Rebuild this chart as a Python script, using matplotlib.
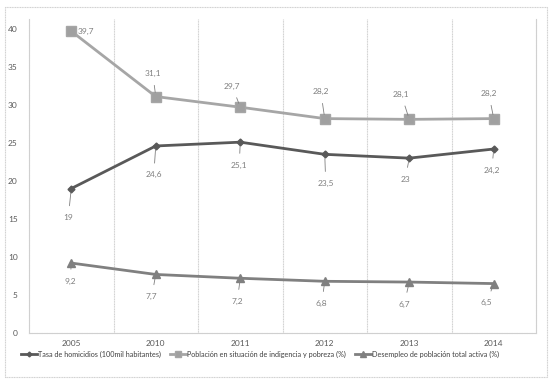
import matplotlib
matplotlib.use('Agg')

import matplotlib.pyplot as plt
from matplotlib.patches import Rectangle

# datos
years = ['2005', '2010', '2011', '2012', '2013', '2014']
homicidios = [19, 24.6, 25.1, 23.5, 23, 24.2]
pobreza = [39.7, 31.1, 29.7, 28.2, 28.1, 28.2]
desempleo = [9.2, 7.7, 7.2, 6.8, 6.7, 6.5]

lbl_homicidios = 'Tasa de homicidios (100mil habitantes)'
lbl_pobreza = 'Población en situación de indigencia y pobreza (%)'
lbl_desempleo = 'Desempleo de población total activa (%)'

# desplazamiento de etiquetas (pixeles)
off_hom = [(-3, -29), (-2, -29), (-1, -23), (1, -29), (-4, -21), (-2, -21)]
off_pob = [(15, 0), (-3, 23), (-8, 21), (-4, 27), (-8, 25), (-5, 25)]
off_des = [(-1, -18), (-4, -22), (-3, -23), (-3, -22), (-5, -22), (-7, -19)]

plt.rcParams['font.family'] = ['Lato', 'DejaVu Sans']

fig = plt.figure(figsize=(5.53, 3.81), dpi=100)
ax = fig.add_axes([29 / 553, 48 / 381, 507 / 553, 314 / 381])

x = list(range(len(years)))
c_hom, c_pob, c_des = '#595959', '#a6a6a6', '#808080'

ax.plot(x, homicidios, color=c_hom, lw=2, marker='D', ms=3.5, label=lbl_homicidios, zorder=4)
ax.plot(x, pobreza, color=c_pob, lw=2, marker='s', ms=6.5, mfc='#a0a0a0', mec='#a6a6a6',
        label=lbl_pobreza, zorder=3)
ax.plot(x, desempleo, color=c_des, lw=2, marker='^', ms=5.5, label=lbl_desempleo, zorder=3)


def etiquetas(vals, offs, ha='center'):
    for i, (v, (dx, dy)) in enumerate(zip(vals, offs)):
        txt = f'{v:g}'.replace('.', ',')
        leader = abs(dy) > 10
        ax.annotate(txt, (i, v), xytext=(dx, dy), textcoords='offset pixels',
                    ha='center', va='center', fontsize=6, color='#7f7f7f',
                    arrowprops=dict(arrowstyle='-', color='#7f7f7f', lw=0.6,
                                    shrinkA=4, shrinkB=3) if leader else None,
                    zorder=5)


etiquetas(homicidios, off_hom)
etiquetas(pobreza, off_pob)
etiquetas(desempleo, off_des)

ax.set_xlim(-0.5, len(years) - 0.5)
ax.set_ylim(0, 41.3)
ax.set_yticks(range(0, 41, 5))
ax.set_xticks(x)
ax.set_xticklabels(years)
ax.tick_params(axis='both', length=0, labelsize=6, labelcolor='#595959')
ax.tick_params(axis='x', pad=5)
ax.tick_params(axis='y', pad=8)

# lineas verticales entre categorias
for b in [i + 0.5 for i in x[:-1]]:
    ax.axvline(b, color='#d0d0d0', lw=0.8, ls=(0, (1, 0.5)), zorder=1)
ax.spines['top'].set_visible(False)
for side in ['left', 'right', 'bottom']:
    ax.spines[side].set_color('#d0d0d0')
    ax.spines[side].set_linewidth(0.8)
    ax.spines[side].set_linestyle((0, (1, 0.5)))

fig.legend(loc='center', bbox_to_anchor=(0.47, 0.071), ncol=3, frameon=False,
           fontsize=5.2, handlelength=2.2, handletextpad=0.2, columnspacing=1.2,
           labelcolor='#404040', markerscale=0.7)

fig.patches.append(Rectangle((5 / 553, 4 / 381), 542 / 553, 370 / 381, transform=fig.transFigure,
                             fill=False, ec='#d0d0d0', lw=0.8, ls=(0, (1, 0.5))))

plt.savefig('out.png', dpi=100)
plt.close()
